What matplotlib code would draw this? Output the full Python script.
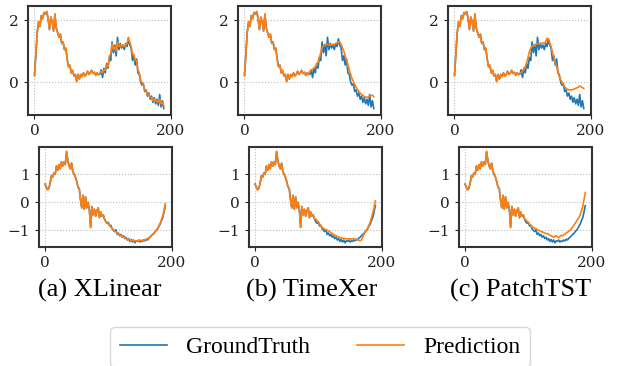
import matplotlib

matplotlib.use("Agg")
import matplotlib.pyplot as plt
import numpy as np
from matplotlib.lines import Line2D

# --- data (every 2nd time step) ---
t = np.arange(0, 192, 2)

# row 1: shared input window (t = 0..94) and horizon (t = 96..190)
hist_1 = [0.22, 0.9, 1.6, 1.95, 1.8, 2.15, 2.05, 2.25, 2.2, 2.28, 2.05, 1.7,
          2.1, 1.95, 1.65, 2.2, 1.75, 1.6, 1.45, 1.55, 1.25, 1.3, 1.05, 1.1,
          0.75, 0.5, 0.55, 0.3, 0.38, 0.2, 0.25, 0.02, 0.25, 0.1, 0.25, 0.18,
          0.3, 0.2, 0.25, 0.35, 0.25, 0.3, 0.38, 0.28, 0.32, 0.22, 0.3, 0.25]
gt_1 = [0.25, 0.4, 0.15, 0.45, 0.3, 0.6, 0.45, 0.8, 0.7, 1.3, 0.95, 1.2,
        0.85, 1.45, 1.05, 1.25, 1.1, 1.2, 1.05, 1.25, 1.15, 1.4, 1.2, 1.1,
        0.7, 0.85, 0.55, 0.75, 0.3, 0.25, 0.0, -0.1, -0.05, -0.3, -0.25, -0.45,
        -0.35, -0.55, -0.45, -0.65, -0.5, -0.7, -0.55, -0.75, -0.4, -0.8, -0.6, -0.85]
xlinear_1 = [0.28, 0.35, 0.3, 0.4, 0.38, 0.55, 0.5, 0.85, 0.9, 1.25, 1.05, 1.15,
             1.0, 1.3, 1.15, 1.2, 1.15, 1.2, 1.15, 1.2, 1.25, 1.45, 1.3, 1.15,
             0.9, 0.9, 0.7, 0.7, 0.4, 0.3, 0.05, 0.0, -0.1, -0.25, -0.3, -0.4,
             -0.4, -0.5, -0.5, -0.6, -0.55, -0.62, -0.58, -0.65, -0.55, -0.7, -0.65, -0.77]
timexer_1 = [0.35, 0.38, 0.42, 0.45, 0.5, 0.55, 0.65, 0.8, 0.95, 1.1, 1.18, 1.22,
             1.22, 1.22, 1.2, 1.2, 1.21, 1.22, 1.22, 1.24, 1.27, 1.3, 1.3, 1.22,
             1.12, 1.0, 0.85, 0.72, 0.55, 0.4, 0.25, 0.12, 0.02, -0.08, -0.16, -0.24,
             -0.3, -0.35, -0.4, -0.43, -0.46, -0.48, -0.49, -0.48, -0.45, -0.43, -0.42, -0.47]
patchtst_1 = [0.28, 0.3, 0.35, 0.42, 0.5, 0.62, 0.8, 0.98, 1.1, 1.15, 1.2, 1.18,
              1.24, 1.25, 1.22, 1.26, 1.25, 1.27, 1.26, 1.3, 1.42, 1.4, 1.28, 1.15,
              0.95, 0.8, 0.62, 0.5, 0.35, 0.18, 0.08, 0.0, -0.08, -0.15, -0.2, -0.23,
              -0.25, -0.25, -0.24, -0.24, -0.22, -0.2, -0.18, -0.16, -0.12, -0.15, -0.18, -0.2]

# row 2
hist_2 = [0.65, 0.55, 0.45, 0.5, 0.68, 0.95, 0.9, 1.05, 1.0, 1.3, 1.15, 1.35,
          1.2, 1.45, 1.3, 1.45, 1.35, 1.82, 1.5, 1.3, 1.2, 1.4, 1.1, 1.0,
          0.9, 0.75, 0.55, 0.5, 0.1, -0.2, 0.25, -0.25, 0.2, -0.2, 0.0, -0.25,
          -0.9, -0.15, -0.45, -0.25, -0.5, -0.3, -0.2, -0.55, -0.35, -0.5, -0.45, -0.6]
gt_2 = [-0.7, -0.75, -0.72, -0.85, -0.82, -0.95, -1.0, -1.05, -0.98, -1.15, -1.1, -1.2,
        -1.15, -1.25, -1.2, -1.3, -1.25, -1.35, -1.3, -1.4, -1.33, -1.42, -1.35, -1.45,
        -1.38, -1.4, -1.35, -1.42, -1.38, -1.4, -1.35, -1.38, -1.32, -1.35, -1.28, -1.25,
        -1.2, -1.15, -1.12, -1.05, -1.0, -0.95, -0.85, -0.78, -0.65, -0.55, -0.35, -0.12]
xlinear_2 = [-0.68, -0.72, -0.78, -0.82, -0.88, -0.93, -0.98, -1.02, -1.06, -1.1, -1.14, -1.17,
             -1.2, -1.23, -1.25, -1.27, -1.3, -1.32, -1.33, -1.35, -1.36, -1.37, -1.38, -1.38,
             -1.38, -1.38, -1.37, -1.37, -1.36, -1.36, -1.35, -1.34, -1.32, -1.3, -1.27, -1.24,
             -1.2, -1.15, -1.1, -1.05, -1.0, -0.92, -0.85, -0.75, -0.62, -0.48, -0.3, -0.05]
timexer_2 = [-0.6, -0.65, -0.7, -0.78, -0.85, -0.9, -0.93, -0.96, -0.98, -1.0, -1.02, -1.05,
             -1.08, -1.12, -1.15, -1.18, -1.2, -1.22, -1.24, -1.26, -1.28, -1.28, -1.3, -1.3,
             -1.31, -1.3, -1.31, -1.3, -1.32, -1.3, -1.31, -1.32, -1.33, -1.34, -1.36, -1.38,
             -1.35, -1.25, -1.15, -1.08, -1.0, -0.92, -0.82, -0.7, -0.55, -0.38, -0.2, 0.05]
patchtst_2 = [-0.62, -0.68, -0.72, -0.78, -0.82, -0.88, -0.9, -0.93, -0.95, -0.98, -1.0, -1.02,
              -1.05, -1.06, -1.08, -1.1, -1.12, -1.12, -1.15, -1.18, -1.2, -1.22, -1.25, -1.22,
              -1.2, -1.24, -1.27, -1.22, -1.18, -1.2, -1.17, -1.13, -1.1, -1.07, -1.03, -1.0,
              -0.95, -0.88, -0.82, -0.75, -0.68, -0.6, -0.55, -0.45, -0.3, -0.15, 0.1, 0.35]

captions = ["(a) XLinear", "(b) TimeXer", "(c) PatchTST"]
legend_labels = ["GroundTruth", "Prediction"]

rows = [
    (hist_1, gt_1, [xlinear_1, timexer_1, patchtst_1], (-1.06, 2.46), [0, 2]),
    (hist_2, gt_2, [xlinear_2, timexer_2, patchtst_2], (-1.6, 1.98), [-1, 0, 1]),
]

# axes boxes in pixels: (left, right) per column, (top, bottom) per row
W, H = 623, 366
col_px = [[(28, 171), (238, 381), (448, 591)],
          [(39, 172), (249, 382), (459, 592)]]
row_px = [(6, 115), (147, 247)]

plt.rcParams["font.family"] = "serif"
plt.rcParams["font.serif"] = ["DejaVu Serif"]

fig = plt.figure(figsize=(W / 100, H / 100), dpi=100)

for r, (hist, gt, preds, ylim, yticks) in enumerate(rows):
    top, bot = row_px[r]
    for c, pred in enumerate(preds):
        left, right = col_px[r][c]
        ax = fig.add_axes([left / W, 1 - bot / H, (right - left) / W, (bot - top) / H])
        ax.plot(t, hist + gt, color="#1f77b4", lw=1.2)
        ax.plot(t, hist + pred, color="#ff7f0e", lw=1.2)
        ax.set_xlim(-9.55, 200.6)
        ax.set_ylim(*ylim)
        ax.set_xticks([0, 200])
        ax.set_yticks(yticks)
        ax.grid(True, linestyle=":", color="#bbbbbb", linewidth=0.8)
        ax.tick_params(labelsize=11, length=3, width=0.8, colors="#222222")
        for sp in ax.spines.values():
            sp.set_linewidth(1.5)
            sp.set_color("#333333")

# captions under each column
cap_x = [100, 312, 521]
for x, cap in zip(cap_x, captions):
    fig.text(x / W, 1 - 290 / H, cap, ha="center", va="center", fontsize=19,
             family="Liberation Serif")

# shared legend at the bottom (its lower edge runs off the canvas)
handles = [Line2D([], [], color="#1f77b4", lw=1.2),
           Line2D([], [], color="#ff7f0e", lw=1.2)]
fig.legend(handles, legend_labels, loc="center", bbox_to_anchor=(320 / W, 1 - 347 / H),
           ncol=2, frameon=True, edgecolor="#cccccc",
           prop={"family": "Liberation Serif", "size": 17})

fig.savefig("out.png", dpi=100)
